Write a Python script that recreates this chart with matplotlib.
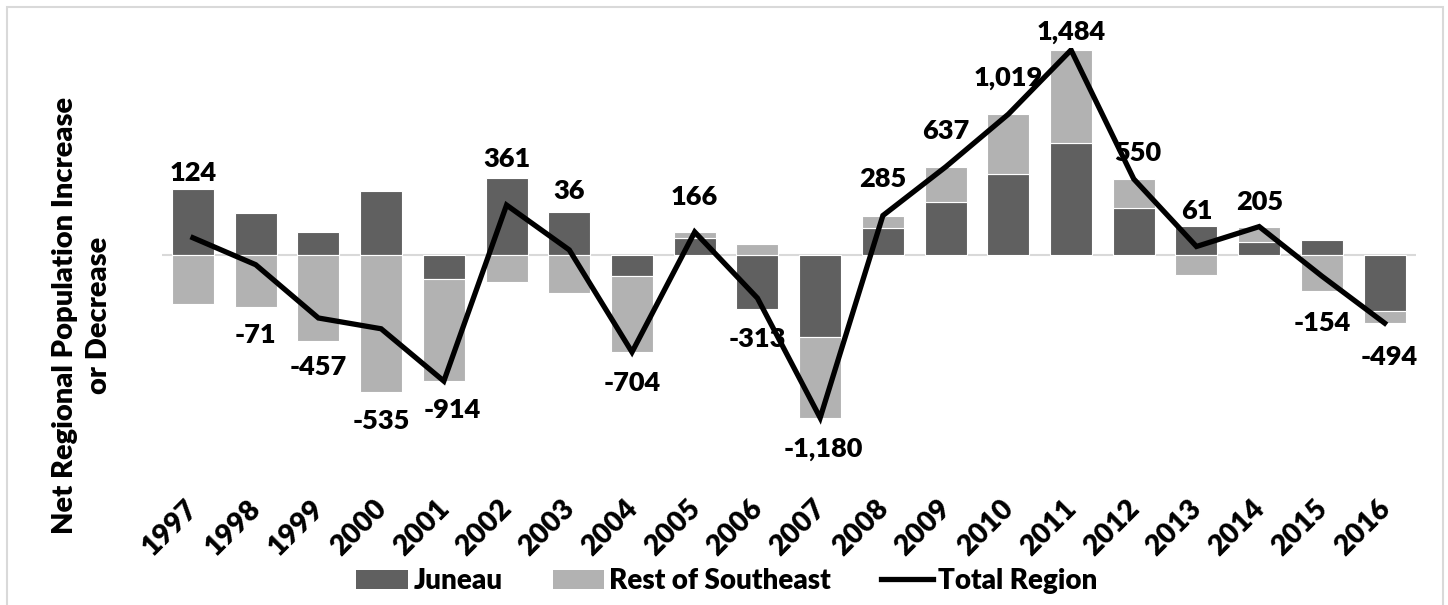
import numpy as np
import matplotlib
matplotlib.use("Agg")
import matplotlib.pyplot as plt
import matplotlib.transforms as mtransforms
from matplotlib.patches import Rectangle, Patch
from matplotlib.lines import Line2D

plt.rcParams['font.family'] = ['Lato', 'DejaVu Sans']
plt.rcParams['font.weight'] = 'heavy'

# Data
years = [str(y) for y in range(1997, 2017)]
juneau = [480, 304, 164, 461, -171, 560, 314, -154, 125, -390,
          -594, 196, 384, 586, 813, 343, 208, 96, 111, -405]
rest_of_se = [-356, -375, -621, -996, -743, -199, -278, -550, 41, 77,
              -586, 89, 253, 433, 671, 207, -147, 109, -265, -89]
total_region = [124, -71, -457, -535, -914, 361, 36, -704, 166, -313,
                -1180, 285, 637, 1019, 1484, 550, 61, 205, -154, -494]

# Data label placement (y in data units, x shift in category widths)
label_y = [596, -579, -809, -1200, -1122, 693, 466, -929, 422, -610,
           -1407, 548, 900, 1281, 1612, 738, 321, 386, -494, -736]
label_dx = [0, 0, 0, 0, 0.14, 0, 0, 0, 0, 0,
            0.05, 0, 0, 0, 0, 0.06, 0, 0, 0, 0.08]

C_JUNEAU = '#606060'
C_REST = '#b2b2b2'
C_GRID = '#d9d9d9'
W, H = 1448, 605

fig = plt.figure(figsize=(W / 100, H / 100), dpi=100)
ax = fig.add_axes([161.6 / W, 1 - 462 / H, (1416 - 161.6) / W, (462 - 47.8) / H])

x = np.arange(len(years))
juneau_arr = np.array(juneau)
rest_arr = np.array(rest_of_se)
# Excel-style stacking: positives stack on positives, negatives on negatives
rest_bottom = np.where(np.sign(rest_arr) == np.sign(juneau_arr), juneau_arr, 0)

ax.axhline(0, color=C_GRID, linewidth=1.5, zorder=1)
ax.bar(x, juneau_arr, width=0.67, color=C_JUNEAU, edgecolor='white',
       linewidth=0.8, zorder=2)
ax.bar(x, rest_arr, bottom=rest_bottom, width=0.67, color=C_REST,
       edgecolor='white', linewidth=0.8, zorder=2)

for i, val in enumerate(total_region):
    ax.text(x[i] + label_dx[i], label_y[i], f"{val:,}", ha='center', va='center',
            fontsize=19.5, fontweight='heavy', color='black', zorder=3,
            clip_on=False)

ax.plot(x, total_region, color='black', linewidth=3.8, zorder=4,
        solid_joinstyle='miter')

ax.set_xlim(-0.5, len(years) - 0.5)
ax.set_ylim(-1500, 1500)
ax.set_yticks([])
ax.set_xticks(x)
ax.set_xticklabels(years, rotation=45, ha='right', va='top',
                   rotation_mode='anchor', fontsize=20.5, fontweight='heavy')
ax.tick_params(axis='x', length=0, pad=24)
shift = mtransforms.ScaledTranslation(-8 / 100, 0, fig.dpi_scale_trans)
for lbl in ax.get_xticklabels():
    lbl.set_transform(lbl.get_transform() + shift)
for s in ax.spines.values():
    s.set_visible(False)

fig.text(82 / W, 1 - 315 / H, "Net Regional Population Increase\nor Decrease",
         rotation=90, ha='center', va='center', fontsize=21, fontweight='heavy',
         linespacing=1.4)

handles = [Patch(facecolor=C_JUNEAU, edgecolor='none'),
           Patch(facecolor=C_REST, edgecolor='none'),
           Line2D([0], [0], color='black', linewidth=3.8)]
fig.legend(handles, ['Juneau', 'Rest of Southeast', 'Total Region'],
           loc='center', bbox_to_anchor=(727 / W, 1 - 581 / H), ncol=3,
           frameon=False, handlelength=1.85, handleheight=0.65,
           handletextpad=0.2, columnspacing=1.8,
           prop={'weight': 'heavy', 'size': 20})

fig.patches.append(Rectangle((7 / W, -0.01), (1443 - 7) / W, 1 - 7 / H + 0.01,
                             transform=fig.transFigure, fill=False,
                             edgecolor=C_GRID, linewidth=1.5))

fig.savefig('out.png', dpi=100)
